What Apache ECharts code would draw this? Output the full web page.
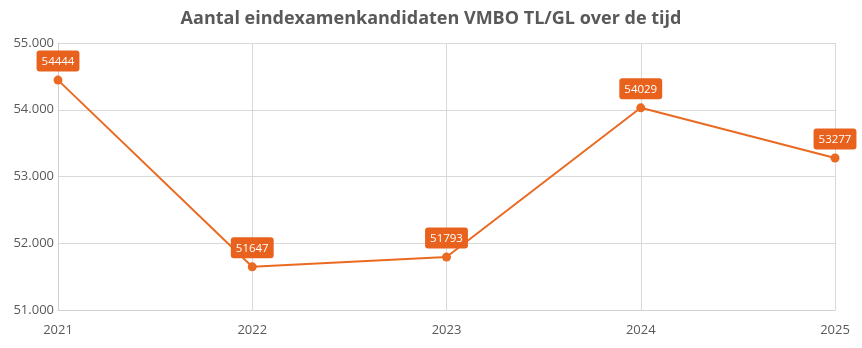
<!DOCTYPE html>
<html><head><meta charset="utf-8">
<script src="https://cdn.jsdelivr.net/npm/echarts@6/dist/echarts.min.js"></script>
<style>html,body{margin:0;padding:0;background:#fff}#c{width:862px;height:348px}</style>
</head><body><div id="c"></div>
<script>
const categories = ['2021','2022','2023','2024','2025'];
const values = [54444, 51647, 51793, 54029, 53277];
const yTicks = [51000, 52000, 53000, 54000, 55000];

const chart = echarts.init(document.getElementById('c'));
const orange = '#EA6A22';
chart.setOption({
  animation: false,
  textStyle: { fontFamily: 'Open Sans' },
  title: {
    text: 'Aantal eindexamenkandidaten VMBO TL/GL over de tijd',
    left: 'center', top: 5,
    textStyle: { fontSize: 18, fontWeight: 'bold', color: '#595959', fontFamily: 'Open Sans' }
  },
  grid: { left: 58, right: 27, top: 43, bottom: 38 },
  xAxis: {
    type: 'category', data: categories, boundaryGap: false,
    axisLine: { lineStyle: { color: '#D0D0D0' } },
    axisTick: { show: false },
    axisLabel: { color: '#595959', fontSize: 13, margin: 14 },
    splitLine: { show: true, lineStyle: { color: '#D9D9D9' } }
  },
  yAxis: {
    type: 'value', min: yTicks[0], max: yTicks[yTicks.length-1], interval: 1000,
    axisLine: { show: true, lineStyle: { color: '#D0D0D0' } },
    axisTick: { show: false },
    axisLabel: { color: '#595959', fontSize: 13, margin: 4,
      formatter: v => v.toLocaleString('de-DE').replace(/,/g,'.') },
    splitLine: { lineStyle: { color: '#D9D9D9' } }
  },
  series: [{
    type: 'line', data: values,
    symbol: 'circle', symbolSize: 9,
    lineStyle: { color: orange, width: 2 },
    itemStyle: { color: orange },
    label: {
      show: true, position: 'top', distance: 4,
      color: '#fff', fontSize: 11.5, backgroundColor: '#E8621E',
      borderRadius: 3, padding: [5, 5, 4, 5]
    }
  }]
});
</script></body></html>
